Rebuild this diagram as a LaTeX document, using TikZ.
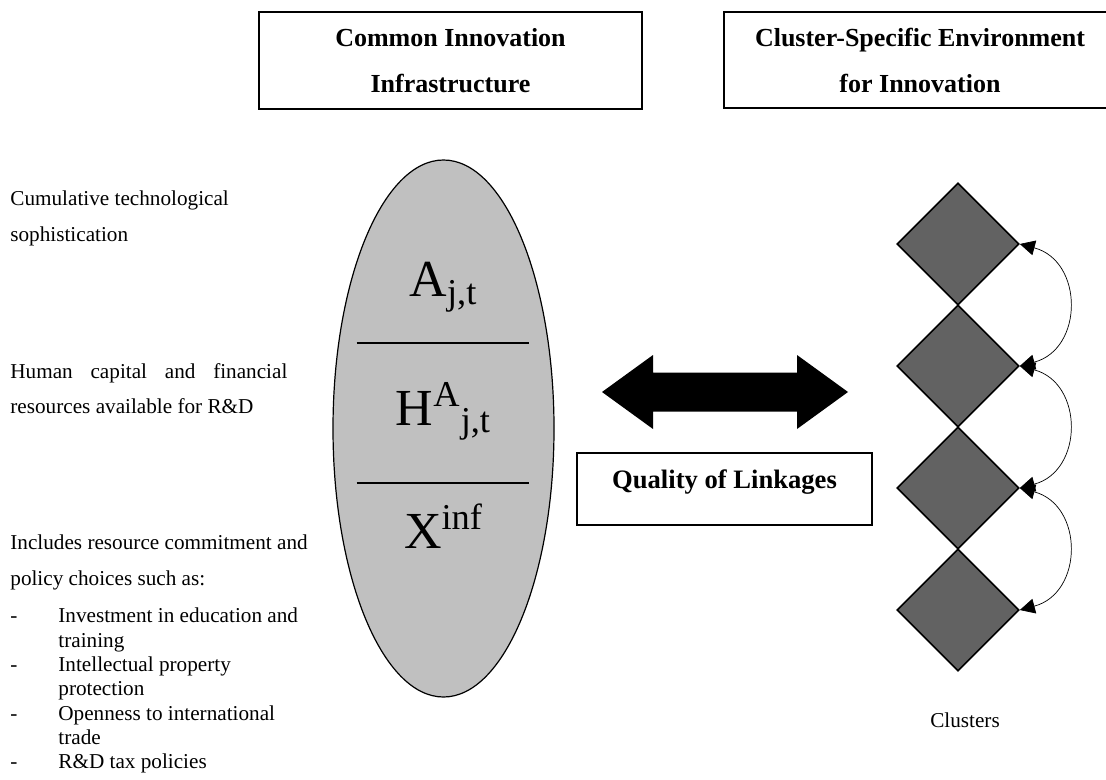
\documentclass[tikz,border=0pt]{standalone}
\usepackage{fontspec}
\setmainfont{Liberation Serif}
\usetikzlibrary{shapes.geometric,arrows.meta,calc}
\definecolor{infragray}{RGB}{192,192,192}
\definecolor{clustergray}{RGB}{98,98,98}

\begin{document}
\begin{tikzpicture}[x=0.5pt,y=-0.5pt,
    headbox/.style={rectangle, draw, line width=0.9pt, align=center, font=\fontsize{13}{23}\selectfont\bfseries, inner sep=0pt},
    note/.style={anchor=base west, inner sep=0pt, font=\fontsize{10.6}{12.2}\selectfont},
    symb/.style={anchor=base, inner sep=0pt, font=\fontsize{26}{30}\selectfont},
    cluster/.style={diamond, draw, line width=0.8pt, fill=clustergray, minimum width=61pt, minimum height=61pt, inner sep=0pt},
    spill/.style={{Triangle[length=7.5pt,width=7.5pt]}-{Triangle[length=7.5pt,width=7.5pt]}, line width=0.35pt}
]
\useasboundingbox (0,0) rectangle (1106,780);

% Headings
\node[headbox, minimum width=191.5pt, minimum height=48.5pt] (common) at (450.5,60.5) {Common Innovation\\Infrastructure};
\node[headbox, minimum width=196pt, minimum height=48pt] (specific) at (920,60) {Cluster-Specific Environment\\for Innovation};

% Common infrastructure
\node[ellipse, draw, line width=0.6pt, fill=infragray, minimum width=110.5pt, minimum height=268.5pt, inner sep=0pt] (infra) at (443.5,428.5) {};
\draw[line width=0.6pt] ($(infra.center)+(-87,-85.5)$) -- ++(172,0);
\draw[line width=0.6pt] ($(infra.center)+(-87,54.5)$) -- ++(172,0);
\node[symb] (tech) at (443.5,297) {A\textsubscript{j,t}};
\node[symb] (human) at (443.5,425) {H\textsuperscript{A}\textsubscript{j,t}};
\node[symb] (policy) at (443.5,548) {X\textsuperscript{inf}};

% Linkages
\coordinate (linkL) at (602,392);
\coordinate (linkR) at (848,392);
\fill (linkL) -- ++(51,-37) -- ++(0,17.5) -- ($(linkR)+(-51,-19.5)$) -- ++(0,-17.5) -- (linkR)
      -- ++(-51,37) -- ++(0,-17.5) -- ($(linkL)+(51,19.5)$) -- ++(0,17.5) -- cycle;
\node[headbox, font=\fontsize{13.3}{16}\selectfont\bfseries, minimum width=147.5pt, minimum height=36pt, text height=9pt, text depth=10pt] (quality) at (724.5,489) {Quality of Linkages};

% Clusters
\foreach \i in {1,...,4}
  \node[cluster] (c\i) at (958,{244+122*(\i-1)}) {};
\foreach \i/\j in {1/2,2/3,3/4}
  \draw[spill] (c\i.east) .. controls ($(c\i.east)+(64,17)$) and ($(c\j.east)+(64,-17)$) .. (c\j.east);
\node[note, anchor=base] (clusters) at (965,727) {Clusters};

% Left notes
\node[note] (cum1) at (10,206) {Cumulative technological};
\node[note] (cum2) at (10,242) {sophistication};
\node[note] (hum1) at (10,378) {\makebox[138.5pt][s]{Human capital and financial}};
\node[note] (hum2) at (10,413) {resources available for R\&D};
\node[note] (inc1) at (10,549) {Includes resource commitment and};
\node[note] (inc2) at (10,585) {policy choices such as:};
\foreach \y/\t in {622/Investment in education and, 671/Intellectual property, 720/Openness to international, 768/R\&D tax policies} {
  \node[note] (dash\y) at (10,\y) {-};
  \node[note] (item\y) at (58,\y) {\t};
}
\foreach \y/\t in {647/training, 695/protection, 744/trade}
  \node[note] (item\y) at (58,\y) {\t};

\end{tikzpicture}
\end{document}
